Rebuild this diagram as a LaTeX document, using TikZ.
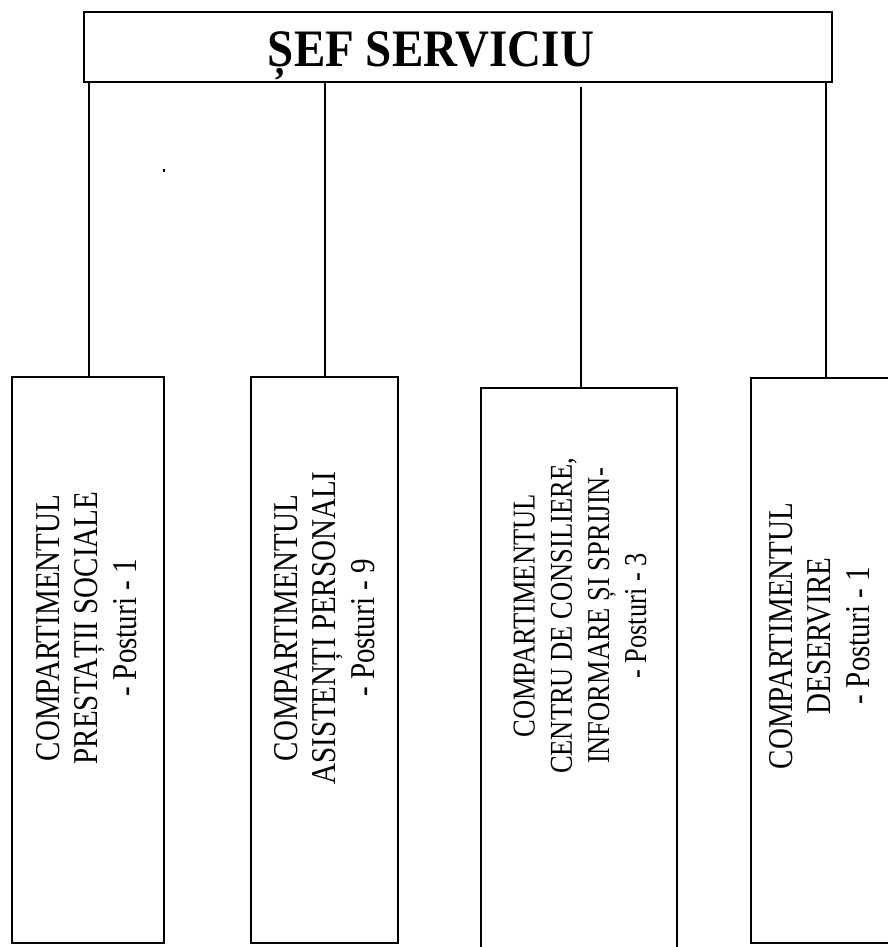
\documentclass[tikz,border=0pt]{standalone}
\usepackage{fontspec}
\usepackage{graphicx}
\setmainfont{Liberation Serif}
\newcommand{\vstack}[1]{\scalebox{1}[1.2]{\begin{tabular}{@{}c@{}}#1\end{tabular}}}
\begin{document}
\begin{tikzpicture}[x=1pt,y=-1pt,
  frame/.style={draw=black,line width=1.5pt,inner sep=0pt,outer sep=0pt},
  link/.style={draw=black,line width=1.8pt},
  vtext/.style={rotate=90,inner sep=0pt,font=\fontsize{29}{32}\selectfont}]
\useasboundingbox (0,0) rectangle (888,947);
\begin{scope}
\clip (0,0) rectangle (888,947);
% title box
\node[frame,minimum width=748pt,minimum height=70pt] (top) at (458,47) {};
\node[inner sep=0pt,anchor=base,font=\fontsize{47}{50}\bfseries\selectfont] (title) at (431,67) {\scalebox{1}[1.12]{ȘEF SERVICIU}};
% department boxes
\node[frame,minimum width=152pt,minimum height=566pt] (b1) at (88,660) {};
\node[frame,minimum width=147pt,minimum height=566pt] (b2) at (324.5,660) {};
\node[frame,minimum width=196pt,minimum height=574pt] (b3) at (579,675) {};
\node[frame,minimum width=140pt,minimum height=565pt] (b4) at (821,660.5) {};
% texts
\node[vtext] (t1) at (90,628) {\vstack{COMPARTIMENTUL\\PRESTAȚII SOCIALE\\- Posturi - 1}};
\node[vtext] (t2) at (328,628) {\vstack{COMPARTIMENTUL\\ASISTENȚI PERSONALI\\- Posturi - 9}};
\node[vtext,font=\fontsize{26.5}{31}\selectfont] (t3) at (583,616) {\vstack{COMPARTIMENTUL\\CENTRU DE CONSILIERE,\\INFORMARE ȘI SPRIJIN-\\- Posturi - 3}};
\node[vtext] (t4) at (823,636) {\vstack{COMPARTIMENTUL\\DESERVIRE\\- Posturi - 1}};
% connectors
\coordinate (c1) at (89,82);
\coordinate (c2) at (325,82);
\coordinate (c3) at (581,87);
\coordinate (c4) at (826,82);
\draw[link] (c1) -- (c1 |- b1.north);
\draw[link] (c2) -- (c2 |- b2.north);
\draw[link] (c3) -- (c3 |- b3.north);
\draw[link] (c4) -- (c4 |- b4.north);
% stray dot
\fill[black] (162.5,169) rectangle (165,171.5);
\end{scope}
\end{tikzpicture}
\end{document}
